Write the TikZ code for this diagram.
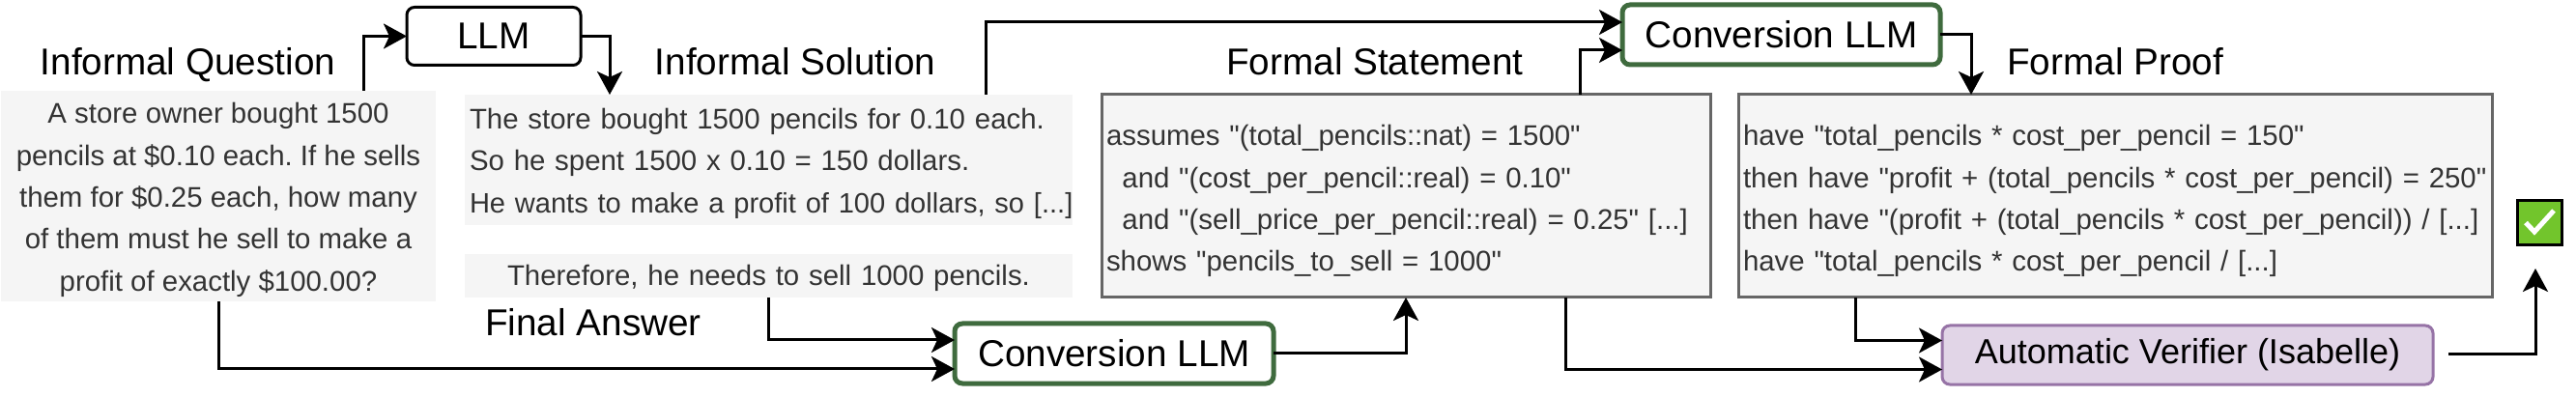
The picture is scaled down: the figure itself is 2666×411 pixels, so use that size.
\documentclass[tikz,border=0pt]{standalone}
\usepackage{fontspec}
\setmainfont{Liberation Sans}
\newfontfamily\codefont{Liberation Sans}
\usepackage{tikz}
\usetikzlibrary{arrows.meta, calc, positioning}
\definecolor{boxgray}{HTML}{F5F5F5}
\definecolor{boxline}{HTML}{666666}
\definecolor{boxtext}{HTML}{333333}
\definecolor{convgreen}{HTML}{3F6B3E}
\definecolor{verfill}{HTML}{E1D5E7}
\definecolor{verline}{HTML}{9673A6}
\definecolor{okgreen}{HTML}{72C52C}
\newcommand{\ind}{\hspace*{16.4pt}}
\newcommand{\topgap}[1]{\rule{0pt}{#1}}
\frenchspacing

\begin{document}
\begin{tikzpicture}[x=1pt,y=-1pt,
    flow/.style={->,>={Stealth[length=24pt,width=26pt,inset=6pt]},line width=3pt,shorten >=0pt},
    title/.style={font=\fontsize{38.7}{46}\selectfont,inner sep=0pt,anchor=base},
    plain/.style={fill=boxgray,text=boxtext,inner sep=5pt,outer sep=0pt,font=\fontsize{29.4}{43.3}\selectfont},
    code/.style={plain,draw=boxline,line width=3pt,align=left,minimum height=210pt,text width=#1-10pt,
      font=\codefont\fontsize{29.4}{43.3}\selectfont},
    llmbox/.style={draw,rounded corners=8pt,fill=white,line width=3pt,outer sep=0pt,minimum height=#1,font=\fontsize{38.7}{44}\selectfont},
    convbox/.style={llmbox=62pt,draw=convgreen,line width=5pt}]

  \useasboundingbox (0,0) rectangle (2666,411);

  % input side
  \node[plain,align=center,minimum width=450pt,minimum height=210pt,inner xsep=0pt] (q_box) at (226,203)
    {\topgap{29pt}A store owner bought 1500\\ pencils at \$0.10 each. If he sells\\ them for \$0.25 each, how many\\ of them must he sell to make a\\ profit of exactly \$100.00?};
  \node[plain,align=left,minimum height=135pt,text width=619pt] (sol_box) at (795.5,165.5)
    {\topgap{29pt}The store bought 1500 pencils for 0.10 each.\\ So he spent 1500 x 0.10 = 150 dollars.\\ \mbox{\fontsize{29.05}{43.3}\selectfont He wants to make a profit of 100 dollars, so [...]}};
  \node[plain,align=center,minimum height=45pt,text width=619pt] (ans_box) at (795.5,285.5)
    {\topgap{27pt}Therefore, he needs to sell 1000 pencils.};

  \node[title] (q_title) at (194.5,78) {Informal Question};
  \node[title] (sol_title) at (823,78) {Informal Solution};
  \node[title] (ans_title) at (614,348) {Final Answer};
  \node[title] (st_title) at (1423,78) {Formal Statement};
  \node[title] (pr_title) at (2189,78) {Formal Proof};

  % models
  \node[llmbox=60pt,minimum width=180pt] (llm) at (511,37.5) {LLM};
  \node[convbox,minimum width=330pt] (conv_a) at (1153,366) {Conversion LLM};
  \node[convbox,minimum width=329pt] (conv_b) at (1843.5,36) {Conversion LLM};

  % formal side
  \node[code=630pt] (st_box) at (1455,203)
    {\topgap{32pt}assumes "(total\_pencils::nat) = 1500"\\
     \ind and "(cost\_per\_pencil::real) = 0.10"\\
     \ind and "(sell\_price\_per\_pencil::real) = 0.25" [...]\\
     shows "pencils\_to\_sell = 1000"};
  \node[code=780pt] (pr_box) at (2189,203)
    {\topgap{32pt}have "total\_pencils * cost\_per\_pencil = 150"\\
     then have "profit + (total\_pencils * cost\_per\_pencil) = 250"\\
     then have "(profit + (total\_pencils * cost\_per\_pencil)) / [...]\\
     have "total\_pencils * cost\_per\_pencil / [...]};

  \node[draw=verline,fill=verfill,rounded corners=8pt,line width=3pt,outer sep=0pt,
        minimum width=508pt,minimum height=61pt,font=\fontsize{36}{44}\selectfont] (ver) at (2264,367.5)
    {Automatic Verifier (Isabelle)};

  \node[draw=black,fill=okgreen,line width=3pt,outer sep=0pt,minimum width=46pt,minimum height=46pt] (ok) at (2628.5,230.5) {};
  \draw[white,line width=5pt] ([xshift=-14.5pt]ok.center) -- ([xshift=-5.5pt,yshift=-9.5pt]ok.center) -- ([xshift=14.5pt,yshift=12.5pt]ok.center);

  \coordinate (ver_out) at (2534,367);
  \coordinate (ok_in) at (2624,278);

  % connectors
  \draw[flow] ([xshift=150pt]q_box.north) |- (llm.west);
  \draw[flow] (llm.east) -| ([xshift=-164.5pt]sol_box.north);
  \draw[flow] (q_box.south) |- ([yshift=-16pt]conv_a.west);
  \draw[flow] (ans_box.south) |- ([yshift=14pt]conv_a.west);
  \draw[flow] ([xshift=224.5pt]sol_box.north) |- ([yshift=13pt]conv_b.west);
  \draw[flow] (conv_a.east) -| (st_box.south);
  \draw[flow] ([xshift=180pt]st_box.north) |- ([yshift=-16pt]conv_b.west);
  \draw[flow] (conv_b.east) -| ([xshift=-149pt]pr_box.north);
  \draw[flow] ([xshift=165pt]st_box.south) |- ([yshift=-15pt]ver.west);
  \draw[flow] ([xshift=-269pt]pr_box.south) |- ([yshift=15pt]ver.west);
  \draw[flow] (ver_out) -| (ok_in);
\end{tikzpicture}
\end{document}
